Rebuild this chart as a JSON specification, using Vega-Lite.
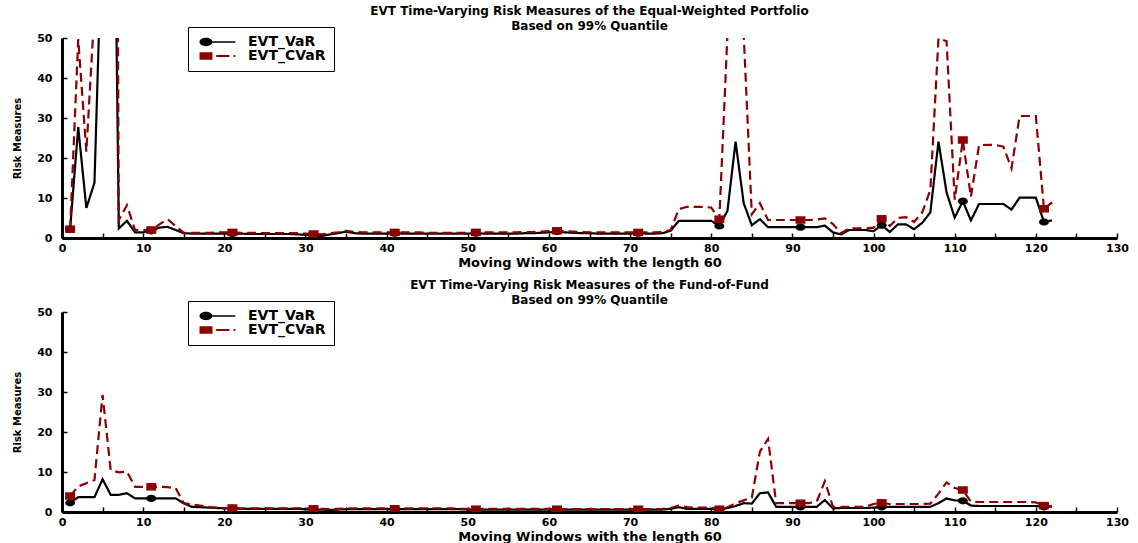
{
  "$schema": "https://vega.github.io/schema/vega-lite/v6.json",
  "padding": {"left": 12, "top": 4, "right": 5, "bottom": 0},
  "background": "white",
  "config": {
    "view": {"stroke": null},
    "font": "DejaVu Sans",
    "title": {"fontSize": 12, "fontWeight": "bold", "color": "black", "subtitleFontSize": 12, "subtitleFontWeight": "bold", "subtitleColor": "black", "subtitleFont": "DejaVu Sans", "subtitlePadding": 0, "offset": -6, "anchor": "middle", "frame": "group"},
    "axis": {"grid": false, "domainColor": "black", "domainWidth": 3, "tickColor": "black", "tickWidth": 1.5, "tickSize": -5, "labelColor": "black", "labelFontWeight": "bold", "labelFontSize": 11, "titleColor": "black", "titleFontWeight": "bold"},
    "legend": {"orient": "none", "legendX": 126, "legendY": -11, "title": null, "strokeColor": "black", "padding": 8, "symbolSize": 144, "symbolOffset": 3, "symbolStrokeWidth": 0, "symbolOpacity": 1, "labelFontSize": 14, "labelFontWeight": "bold", "labelColor": "black", "labelOffset": 35, "rowPadding": -1}
  },
  "bounds": "flush",
  "spacing": 74,
  "resolve": {"scale": {"color": "independent", "shape": "independent", "strokeDash": "independent"}},
  "datasets": {
    "ew": [
      {"w":1,"EVT_VaR":2.2,"EVT_CVaR":2.2},{"w":2,"EVT_VaR":27.7,"EVT_CVaR":49.7},{"w":3,"EVT_VaR":7.5,"EVT_CVaR":21.6},{"w":4,"EVT_VaR":13.8,"EVT_CVaR":57},{"w":5,"EVT_VaR":82,"EVT_CVaR":300},{"w":6,"EVT_VaR":172,"EVT_CVaR":450},{"w":7,"EVT_VaR":2.4,"EVT_CVaR":4.5},{"w":8,"EVT_VaR":4.3,"EVT_CVaR":8.2},{"w":9,"EVT_VaR":1.4,"EVT_CVaR":2.0},{"w":10,"EVT_VaR":1.4,"EVT_CVaR":2.0},
      {"w":11,"EVT_VaR":1.8,"EVT_CVaR":2.0},{"w":12,"EVT_VaR":2.6,"EVT_CVaR":3.4},{"w":13,"EVT_VaR":2.8,"EVT_CVaR":4.7},{"w":14,"EVT_VaR":2.0,"EVT_CVaR":3.0},{"w":15,"EVT_VaR":1.2,"EVT_CVaR":1.3},{"w":16,"EVT_VaR":1.1,"EVT_CVaR":1.3},{"w":17,"EVT_VaR":1.1,"EVT_CVaR":1.3},{"w":18,"EVT_VaR":1.1,"EVT_CVaR":1.3},{"w":19,"EVT_VaR":1.1,"EVT_CVaR":1.4},{"w":20,"EVT_VaR":1.1,"EVT_CVaR":1.4},
      {"w":21,"EVT_VaR":1.1,"EVT_CVaR":1.4},{"w":22,"EVT_VaR":1.1,"EVT_CVaR":1.3},{"w":23,"EVT_VaR":1.0,"EVT_CVaR":1.3},{"w":24,"EVT_VaR":1.0,"EVT_CVaR":1.3},{"w":25,"EVT_VaR":1.0,"EVT_CVaR":1.2},{"w":26,"EVT_VaR":1.0,"EVT_CVaR":1.2},{"w":27,"EVT_VaR":1.0,"EVT_CVaR":1.2},{"w":28,"EVT_VaR":1.0,"EVT_CVaR":1.2},{"w":29,"EVT_VaR":0.9,"EVT_CVaR":1.2},{"w":30,"EVT_VaR":0.8,"EVT_CVaR":1.1},
      {"w":31,"EVT_VaR":0.6,"EVT_CVaR":1.0},{"w":32,"EVT_VaR":0.5,"EVT_CVaR":0.9},{"w":33,"EVT_VaR":0.9,"EVT_CVaR":1.2},{"w":34,"EVT_VaR":1.2,"EVT_CVaR":1.4},{"w":35,"EVT_VaR":1.6,"EVT_CVaR":1.8},{"w":36,"EVT_VaR":1.2,"EVT_CVaR":1.5},{"w":37,"EVT_VaR":1.1,"EVT_CVaR":1.4},{"w":38,"EVT_VaR":1.1,"EVT_CVaR":1.4},{"w":39,"EVT_VaR":1.1,"EVT_CVaR":1.4},{"w":40,"EVT_VaR":1.1,"EVT_CVaR":1.4},
      {"w":41,"EVT_VaR":1.2,"EVT_CVaR":1.4},{"w":42,"EVT_VaR":1.1,"EVT_CVaR":1.4},{"w":43,"EVT_VaR":1.1,"EVT_CVaR":1.4},{"w":44,"EVT_VaR":1.1,"EVT_CVaR":1.4},{"w":45,"EVT_VaR":1.1,"EVT_CVaR":1.3},{"w":46,"EVT_VaR":1.1,"EVT_CVaR":1.3},{"w":47,"EVT_VaR":1.1,"EVT_CVaR":1.3},{"w":48,"EVT_VaR":1.1,"EVT_CVaR":1.3},{"w":49,"EVT_VaR":1.1,"EVT_CVaR":1.3},{"w":50,"EVT_VaR":1.1,"EVT_CVaR":1.3},
      {"w":51,"EVT_VaR":1.2,"EVT_CVaR":1.4},{"w":52,"EVT_VaR":1.1,"EVT_CVaR":1.4},{"w":53,"EVT_VaR":1.1,"EVT_CVaR":1.4},{"w":54,"EVT_VaR":1.1,"EVT_CVaR":1.4},{"w":55,"EVT_VaR":1.1,"EVT_CVaR":1.4},{"w":56,"EVT_VaR":1.1,"EVT_CVaR":1.4},{"w":57,"EVT_VaR":1.2,"EVT_CVaR":1.5},{"w":58,"EVT_VaR":1.2,"EVT_CVaR":1.5},{"w":59,"EVT_VaR":1.3,"EVT_CVaR":1.6},{"w":60,"EVT_VaR":1.4,"EVT_CVaR":1.7},
      {"w":61,"EVT_VaR":1.6,"EVT_CVaR":1.8},{"w":62,"EVT_VaR":1.4,"EVT_CVaR":1.7},{"w":63,"EVT_VaR":1.3,"EVT_CVaR":1.6},{"w":64,"EVT_VaR":1.2,"EVT_CVaR":1.5},{"w":65,"EVT_VaR":1.2,"EVT_CVaR":1.4},{"w":66,"EVT_VaR":1.1,"EVT_CVaR":1.4},{"w":67,"EVT_VaR":1.1,"EVT_CVaR":1.4},{"w":68,"EVT_VaR":1.1,"EVT_CVaR":1.4},{"w":69,"EVT_VaR":1.1,"EVT_CVaR":1.4},{"w":70,"EVT_VaR":1.1,"EVT_CVaR":1.4},
      {"w":71,"EVT_VaR":1.2,"EVT_CVaR":1.4},{"w":72,"EVT_VaR":1.1,"EVT_CVaR":1.4},{"w":73,"EVT_VaR":1.1,"EVT_CVaR":1.4},{"w":74,"EVT_VaR":1.2,"EVT_CVaR":1.5},{"w":75,"EVT_VaR":1.8,"EVT_CVaR":2.0},{"w":76,"EVT_VaR":4.3,"EVT_CVaR":7.2},{"w":77,"EVT_VaR":4.3,"EVT_CVaR":7.8},{"w":78,"EVT_VaR":4.3,"EVT_CVaR":7.8},{"w":79,"EVT_VaR":4.3,"EVT_CVaR":7.8},{"w":80,"EVT_VaR":4.3,"EVT_CVaR":7.6},
      {"w":81,"EVT_VaR":3.0,"EVT_CVaR":4.7},{"w":82,"EVT_VaR":6.8,"EVT_CVaR":51},{"w":83,"EVT_VaR":24.1,"EVT_CVaR":600},{"w":84,"EVT_VaR":8.7,"EVT_CVaR":51},{"w":85,"EVT_VaR":3.2,"EVT_CVaR":5.9},{"w":86,"EVT_VaR":4.7,"EVT_CVaR":8.7},{"w":87,"EVT_VaR":2.7,"EVT_CVaR":4.5},{"w":88,"EVT_VaR":2.7,"EVT_CVaR":4.5},{"w":89,"EVT_VaR":2.7,"EVT_CVaR":4.5},{"w":90,"EVT_VaR":2.7,"EVT_CVaR":4.5},
      {"w":91,"EVT_VaR":2.7,"EVT_CVaR":4.5},{"w":92,"EVT_VaR":2.7,"EVT_CVaR":4.5},{"w":93,"EVT_VaR":2.7,"EVT_CVaR":4.6},{"w":94,"EVT_VaR":3.1,"EVT_CVaR":4.9},{"w":95,"EVT_VaR":1.4,"EVT_CVaR":3.5},{"w":96,"EVT_VaR":0.9,"EVT_CVaR":1.2},{"w":97,"EVT_VaR":2.0,"EVT_CVaR":2.4},{"w":98,"EVT_VaR":2.0,"EVT_CVaR":2.4},{"w":99,"EVT_VaR":2.0,"EVT_CVaR":2.4},{"w":100,"EVT_VaR":1.7,"EVT_CVaR":2.6},
      {"w":101,"EVT_VaR":3.2,"EVT_CVaR":4.8},{"w":102,"EVT_VaR":1.5,"EVT_CVaR":3.0},{"w":103,"EVT_VaR":3.4,"EVT_CVaR":5.0},{"w":104,"EVT_VaR":3.4,"EVT_CVaR":5.2},{"w":105,"EVT_VaR":2.2,"EVT_CVaR":4.0},{"w":106,"EVT_VaR":3.8,"EVT_CVaR":6.4},{"w":107,"EVT_VaR":6.4,"EVT_CVaR":12},{"w":108,"EVT_VaR":24.1,"EVT_CVaR":49.9},{"w":109,"EVT_VaR":11.4,"EVT_CVaR":49.2},{"w":110,"EVT_VaR":5.1,"EVT_CVaR":9.6},
      {"w":111,"EVT_VaR":9.2,"EVT_CVaR":24.5},{"w":112,"EVT_VaR":4.4,"EVT_CVaR":10.3},{"w":113,"EVT_VaR":8.5,"EVT_CVaR":23.2},{"w":114,"EVT_VaR":8.5,"EVT_CVaR":23.3},{"w":115,"EVT_VaR":8.5,"EVT_CVaR":23.3},{"w":116,"EVT_VaR":8.5,"EVT_CVaR":22.8},{"w":117,"EVT_VaR":7.1,"EVT_CVaR":17.4},{"w":118,"EVT_VaR":10.1,"EVT_CVaR":30.5},{"w":119,"EVT_VaR":10.1,"EVT_CVaR":30.5},{"w":120,"EVT_VaR":10.1,"EVT_CVaR":30.5},
      {"w":121,"EVT_VaR":4.0,"EVT_CVaR":7.3},{"w":122,"EVT_VaR":4.4,"EVT_CVaR":8.9}
    ],
    "fof": [
      {"w":1,"EVT_VaR":2.3,"EVT_CVaR":4.0},{"w":2,"EVT_VaR":3.7,"EVT_CVaR":6.4},{"w":3,"EVT_VaR":3.7,"EVT_CVaR":7.2},{"w":4,"EVT_VaR":3.7,"EVT_CVaR":8.0},{"w":5,"EVT_VaR":8.2,"EVT_CVaR":29.3},{"w":6,"EVT_VaR":4.3,"EVT_CVaR":10.5},{"w":7,"EVT_VaR":4.3,"EVT_CVaR":9.9},{"w":8,"EVT_VaR":4.7,"EVT_CVaR":10.1},{"w":9,"EVT_VaR":3.4,"EVT_CVaR":6.3},{"w":10,"EVT_VaR":3.4,"EVT_CVaR":6.3},
      {"w":11,"EVT_VaR":3.4,"EVT_CVaR":6.3},{"w":12,"EVT_VaR":3.4,"EVT_CVaR":6.3},{"w":13,"EVT_VaR":3.4,"EVT_CVaR":6.2},{"w":14,"EVT_VaR":3.4,"EVT_CVaR":6.0},{"w":15,"EVT_VaR":2.2,"EVT_CVaR":2.2},{"w":16,"EVT_VaR":1.3,"EVT_CVaR":1.9},{"w":17,"EVT_VaR":1.2,"EVT_CVaR":1.6},{"w":18,"EVT_VaR":1.1,"EVT_CVaR":1.3},{"w":19,"EVT_VaR":1.0,"EVT_CVaR":1.1},{"w":20,"EVT_VaR":0.9,"EVT_CVaR":1.0},
      {"w":21,"EVT_VaR":0.9,"EVT_CVaR":1.0},{"w":22,"EVT_VaR":0.8,"EVT_CVaR":0.9},{"w":23,"EVT_VaR":0.8,"EVT_CVaR":0.9},{"w":24,"EVT_VaR":0.8,"EVT_CVaR":0.9},{"w":25,"EVT_VaR":0.8,"EVT_CVaR":0.9},{"w":26,"EVT_VaR":0.8,"EVT_CVaR":0.9},{"w":27,"EVT_VaR":0.8,"EVT_CVaR":0.9},{"w":28,"EVT_VaR":0.8,"EVT_CVaR":0.9},{"w":29,"EVT_VaR":0.8,"EVT_CVaR":0.9},{"w":30,"EVT_VaR":0.7,"EVT_CVaR":0.9},
      {"w":31,"EVT_VaR":0.6,"EVT_CVaR":0.8},{"w":32,"EVT_VaR":0.6,"EVT_CVaR":0.8},{"w":33,"EVT_VaR":0.5,"EVT_CVaR":0.7},{"w":34,"EVT_VaR":0.6,"EVT_CVaR":0.8},{"w":35,"EVT_VaR":0.7,"EVT_CVaR":0.9},{"w":36,"EVT_VaR":0.7,"EVT_CVaR":0.9},{"w":37,"EVT_VaR":0.7,"EVT_CVaR":0.9},{"w":38,"EVT_VaR":0.7,"EVT_CVaR":0.9},{"w":39,"EVT_VaR":0.7,"EVT_CVaR":0.9},{"w":40,"EVT_VaR":0.7,"EVT_CVaR":0.9},
      {"w":41,"EVT_VaR":0.7,"EVT_CVaR":0.8},{"w":42,"EVT_VaR":0.7,"EVT_CVaR":0.9},{"w":43,"EVT_VaR":0.7,"EVT_CVaR":0.9},{"w":44,"EVT_VaR":0.7,"EVT_CVaR":0.9},{"w":45,"EVT_VaR":0.7,"EVT_CVaR":0.9},{"w":46,"EVT_VaR":0.7,"EVT_CVaR":0.9},{"w":47,"EVT_VaR":0.7,"EVT_CVaR":0.9},{"w":48,"EVT_VaR":0.7,"EVT_CVaR":0.9},{"w":49,"EVT_VaR":0.7,"EVT_CVaR":0.8},{"w":50,"EVT_VaR":0.6,"EVT_CVaR":0.8},
      {"w":51,"EVT_VaR":0.6,"EVT_CVaR":0.7},{"w":52,"EVT_VaR":0.6,"EVT_CVaR":0.8},{"w":53,"EVT_VaR":0.6,"EVT_CVaR":0.8},{"w":54,"EVT_VaR":0.6,"EVT_CVaR":0.8},{"w":55,"EVT_VaR":0.6,"EVT_CVaR":0.8},{"w":56,"EVT_VaR":0.6,"EVT_CVaR":0.8},{"w":57,"EVT_VaR":0.6,"EVT_CVaR":0.8},{"w":58,"EVT_VaR":0.6,"EVT_CVaR":0.8},{"w":59,"EVT_VaR":0.6,"EVT_CVaR":0.8},{"w":60,"EVT_VaR":0.6,"EVT_CVaR":0.8},
      {"w":61,"EVT_VaR":0.6,"EVT_CVaR":0.7},{"w":62,"EVT_VaR":0.6,"EVT_CVaR":0.7},{"w":63,"EVT_VaR":0.6,"EVT_CVaR":0.7},{"w":64,"EVT_VaR":0.6,"EVT_CVaR":0.7},{"w":65,"EVT_VaR":0.6,"EVT_CVaR":0.7},{"w":66,"EVT_VaR":0.6,"EVT_CVaR":0.7},{"w":67,"EVT_VaR":0.6,"EVT_CVaR":0.7},{"w":68,"EVT_VaR":0.6,"EVT_CVaR":0.7},{"w":69,"EVT_VaR":0.6,"EVT_CVaR":0.7},{"w":70,"EVT_VaR":0.6,"EVT_CVaR":0.7},
      {"w":71,"EVT_VaR":0.6,"EVT_CVaR":0.7},{"w":72,"EVT_VaR":0.6,"EVT_CVaR":0.7},{"w":73,"EVT_VaR":0.6,"EVT_CVaR":0.7},{"w":74,"EVT_VaR":0.6,"EVT_CVaR":0.8},{"w":75,"EVT_VaR":0.8,"EVT_CVaR":1.0},{"w":76,"EVT_VaR":1.2,"EVT_CVaR":1.6},{"w":77,"EVT_VaR":0.8,"EVT_CVaR":1.2},{"w":78,"EVT_VaR":0.8,"EVT_CVaR":1.1},{"w":79,"EVT_VaR":0.8,"EVT_CVaR":1.1},{"w":80,"EVT_VaR":0.8,"EVT_CVaR":1.1},
      {"w":81,"EVT_VaR":0.6,"EVT_CVaR":0.7},{"w":82,"EVT_VaR":1.0,"EVT_CVaR":1.2},{"w":83,"EVT_VaR":1.5,"EVT_CVaR":2.2},{"w":84,"EVT_VaR":2.2,"EVT_CVaR":2.9},{"w":85,"EVT_VaR":2.1,"EVT_CVaR":3.6},{"w":86,"EVT_VaR":4.7,"EVT_CVaR":15.1},{"w":87,"EVT_VaR":4.9,"EVT_CVaR":18.3},{"w":88,"EVT_VaR":1.3,"EVT_CVaR":2.2},{"w":89,"EVT_VaR":1.3,"EVT_CVaR":2.2},{"w":90,"EVT_VaR":1.3,"EVT_CVaR":2.2},
      {"w":91,"EVT_VaR":1.3,"EVT_CVaR":2.2},{"w":92,"EVT_VaR":1.3,"EVT_CVaR":2.2},{"w":93,"EVT_VaR":1.3,"EVT_CVaR":2.6},{"w":94,"EVT_VaR":3.0,"EVT_CVaR":7.7},{"w":95,"EVT_VaR":0.9,"EVT_CVaR":1.3},{"w":96,"EVT_VaR":1.0,"EVT_CVaR":1.3},{"w":97,"EVT_VaR":1.0,"EVT_CVaR":1.3},{"w":98,"EVT_VaR":1.0,"EVT_CVaR":1.3},{"w":99,"EVT_VaR":1.0,"EVT_CVaR":1.3},{"w":100,"EVT_VaR":1.1,"EVT_CVaR":2.0},
      {"w":101,"EVT_VaR":1.3,"EVT_CVaR":2.3},{"w":102,"EVT_VaR":1.3,"EVT_CVaR":2.0},{"w":103,"EVT_VaR":1.3,"EVT_CVaR":2.0},{"w":104,"EVT_VaR":1.3,"EVT_CVaR":2.0},{"w":105,"EVT_VaR":1.3,"EVT_CVaR":2.0},{"w":106,"EVT_VaR":1.3,"EVT_CVaR":2.0},{"w":107,"EVT_VaR":1.3,"EVT_CVaR":2.1},{"w":108,"EVT_VaR":2.2,"EVT_CVaR":4.6},{"w":109,"EVT_VaR":3.4,"EVT_CVaR":7.4},{"w":110,"EVT_VaR":2.9,"EVT_CVaR":6.0},
      {"w":111,"EVT_VaR":2.8,"EVT_CVaR":5.5},{"w":112,"EVT_VaR":1.6,"EVT_CVaR":2.6},{"w":113,"EVT_VaR":1.5,"EVT_CVaR":2.5},{"w":114,"EVT_VaR":1.5,"EVT_CVaR":2.5},{"w":115,"EVT_VaR":1.5,"EVT_CVaR":2.5},{"w":116,"EVT_VaR":1.5,"EVT_CVaR":2.5},{"w":117,"EVT_VaR":1.5,"EVT_CVaR":2.5},{"w":118,"EVT_VaR":1.5,"EVT_CVaR":2.5},{"w":119,"EVT_VaR":1.5,"EVT_CVaR":2.5},{"w":120,"EVT_VaR":1.5,"EVT_CVaR":2.4},
      {"w":121,"EVT_VaR":1.3,"EVT_CVaR":1.6},{"w":122,"EVT_VaR":1.4,"EVT_CVaR":1.3}
    ]
  },
  "vconcat": [
    {
      "width": 1055, "height": 200,
      "title": {"text": "EVT Time-Varying Risk Measures of the Equal-Weighted Portfolio", "subtitle": "Based on 99% Quantile"},
      "data": {"name": "ew"},
      "transform": [{"fold": ["EVT_VaR", "EVT_CVaR"], "as": ["series", "value"]}],
      "encoding": {
        "x": {"field": "w", "type": "quantitative", "scale": {"domain": [0, 130], "nice": false, "zero": false},
              "axis": {"values": [0,5,10,15,20,25,30,35,40,45,50,55,60,65,70,75,80,85,90,95,100,105,110,115,120,125,130], "labelExpr": "datum.value % 10 == 0 ? datum.label : ''", "labelFlush": false, "labelPadding": 9, "title": "Moving Windows with the length 60", "titleFontSize": 13, "titlePadding": 3}},
        "y": {"field": "value", "type": "quantitative", "scale": {"domain": [0, 50], "nice": false},
              "axis": {"values": [0,10,20,30,40,50], "labelPadding": 15, "title": "Risk Measures", "titleFontSize": 10, "titlePadding": 14}}
      },
      "resolve": {"scale": {"color": "independent", "shape": "independent", "strokeDash": "independent"}},
      "layer": [
        {"mark": {"type": "line", "clip": true, "strokeWidth": 2.2},
         "encoding": {
           "color": {"field": "series", "type": "nominal", "scale": {"domain": ["EVT_VaR", "EVT_CVaR"], "range": ["#000000", "#8b0000"]}, "legend": null},
           "strokeDash": {"field": "series", "type": "nominal", "scale": {"domain": ["EVT_VaR", "EVT_CVaR"], "range": [[1, 0], [9, 5]]}, "legend": null}}},
        {"transform": [{"filter": "datum.w % 10 == 1"}],
         "mark": {"type": "point", "filled": true, "size": 100, "opacity": 1, "clip": true},
         "encoding": {
           "color": {"field": "series", "type": "nominal", "scale": {"domain": ["EVT_VaR", "EVT_CVaR"], "range": ["#000000", "#8b0000"]}, "legend": null},
           "shape": {"field": "series", "type": "nominal", "scale": {"domain": ["EVT_VaR", "EVT_CVaR"], "range": ["M-1,0C-1,-0.4 -0.55,-0.72 0,-0.72C0.55,-0.72 1,-0.4 1,0C1,0.4 0.55,0.72 0,0.72C-0.55,0.72 -1,0.4 -1,0Z", "M-1,-0.75L1,-0.75L1,0.75L-1,0.75Z"]}, "legend": null}}},
        {"transform": [{"filter": "false"}],
         "mark": {"type": "point", "filled": true, "size": 144, "opacity": 1, "strokeWidth": 0},
         "encoding": {
           "color": {"field": "series", "type": "nominal", "scale": {"domain": ["EVT_VaR", "EVT_CVaR"], "range": ["#000000", "#8b0000"]},
             "legend": {"labelExpr": "datum.label == 'EVT_CVaR' ? '\u00a0\u00a0EVT_CVaR\u00a0\u00a0\u00a0\u00a0\u00a0' : datum.label"}},
           "shape": {"field": "series", "type": "nominal", "scale": {"domain": ["EVT_VaR", "EVT_CVaR"], "range": ["M-1.08,0C-1.08,-0.39 -0.6,-0.7 0,-0.7C0.6,-0.7 1.08,-0.39 1.08,0C1.08,0.39 0.6,0.7 0,0.7C-0.6,0.7 -1.08,0.39 -1.08,0Z M1,-0.13L4.9,-0.13L4.9,0.13L1,0.13Z", "M-1.08,-0.62L1.08,-0.62L1.08,0.62L-1.08,0.62Z M1.7,-0.17L3.9,-0.17L3.9,0.17L1.7,0.17Z M4.6,-0.17L4.9,-0.17L4.9,0.17L4.6,0.17Z"]},
             "legend": {"labelExpr": "datum.label == 'EVT_CVaR' ? '\u00a0\u00a0EVT_CVaR\u00a0\u00a0\u00a0\u00a0\u00a0' : datum.label"}}}}
      ]
    },
    {
      "width": 1055, "height": 200,
      "title": {"text": "EVT Time-Varying Risk Measures of the Fund-of-Fund", "subtitle": "Based on 99% Quantile"},
      "data": {"name": "fof"},
      "transform": [{"fold": ["EVT_VaR", "EVT_CVaR"], "as": ["series", "value"]}],
      "encoding": {
        "x": {"field": "w", "type": "quantitative", "scale": {"domain": [0, 130], "nice": false, "zero": false},
              "axis": {"values": [0,5,10,15,20,25,30,35,40,45,50,55,60,65,70,75,80,85,90,95,100,105,110,115,120,125,130], "labelExpr": "datum.value % 10 == 0 ? datum.label : ''", "labelFlush": false, "labelPadding": 9, "title": "Moving Windows with the length 60", "titleFontSize": 13, "titlePadding": 3}},
        "y": {"field": "value", "type": "quantitative", "scale": {"domain": [0, 50], "nice": false},
              "axis": {"values": [0,10,20,30,40,50], "labelPadding": 15, "title": "Risk Measures", "titleFontSize": 10, "titlePadding": 14}}
      },
      "resolve": {"scale": {"color": "independent", "shape": "independent", "strokeDash": "independent"}},
      "layer": [
        {"mark": {"type": "line", "clip": true, "strokeWidth": 2.2},
         "encoding": {
           "color": {"field": "series", "type": "nominal", "scale": {"domain": ["EVT_VaR", "EVT_CVaR"], "range": ["#000000", "#8b0000"]}, "legend": null},
           "strokeDash": {"field": "series", "type": "nominal", "scale": {"domain": ["EVT_VaR", "EVT_CVaR"], "range": [[1, 0], [9, 5]]}, "legend": null}}},
        {"transform": [{"filter": "datum.w % 10 == 1"}],
         "mark": {"type": "point", "filled": true, "size": 100, "opacity": 1, "clip": true},
         "encoding": {
           "color": {"field": "series", "type": "nominal", "scale": {"domain": ["EVT_VaR", "EVT_CVaR"], "range": ["#000000", "#8b0000"]}, "legend": null},
           "shape": {"field": "series", "type": "nominal", "scale": {"domain": ["EVT_VaR", "EVT_CVaR"], "range": ["M-1,0C-1,-0.4 -0.55,-0.72 0,-0.72C0.55,-0.72 1,-0.4 1,0C1,0.4 0.55,0.72 0,0.72C-0.55,0.72 -1,0.4 -1,0Z", "M-1,-0.75L1,-0.75L1,0.75L-1,0.75Z"]}, "legend": null}}},
        {"transform": [{"filter": "false"}],
         "mark": {"type": "point", "filled": true, "size": 144, "opacity": 1, "strokeWidth": 0},
         "encoding": {
           "color": {"field": "series", "type": "nominal", "scale": {"domain": ["EVT_VaR", "EVT_CVaR"], "range": ["#000000", "#8b0000"]},
             "legend": {"labelExpr": "datum.label == 'EVT_CVaR' ? '\u00a0\u00a0EVT_CVaR\u00a0\u00a0\u00a0\u00a0\u00a0' : datum.label"}},
           "shape": {"field": "series", "type": "nominal", "scale": {"domain": ["EVT_VaR", "EVT_CVaR"], "range": ["M-1.08,0C-1.08,-0.39 -0.6,-0.7 0,-0.7C0.6,-0.7 1.08,-0.39 1.08,0C1.08,0.39 0.6,0.7 0,0.7C-0.6,0.7 -1.08,0.39 -1.08,0Z M1,-0.13L4.9,-0.13L4.9,0.13L1,0.13Z", "M-1.08,-0.62L1.08,-0.62L1.08,0.62L-1.08,0.62Z M1.7,-0.17L3.9,-0.17L3.9,0.17L1.7,0.17Z M4.6,-0.17L4.9,-0.17L4.9,0.17L4.6,0.17Z"]},
             "legend": {"labelExpr": "datum.label == 'EVT_CVaR' ? '\u00a0\u00a0EVT_CVaR\u00a0\u00a0\u00a0\u00a0\u00a0' : datum.label"}}}}
      ]
    }
  ]
}
